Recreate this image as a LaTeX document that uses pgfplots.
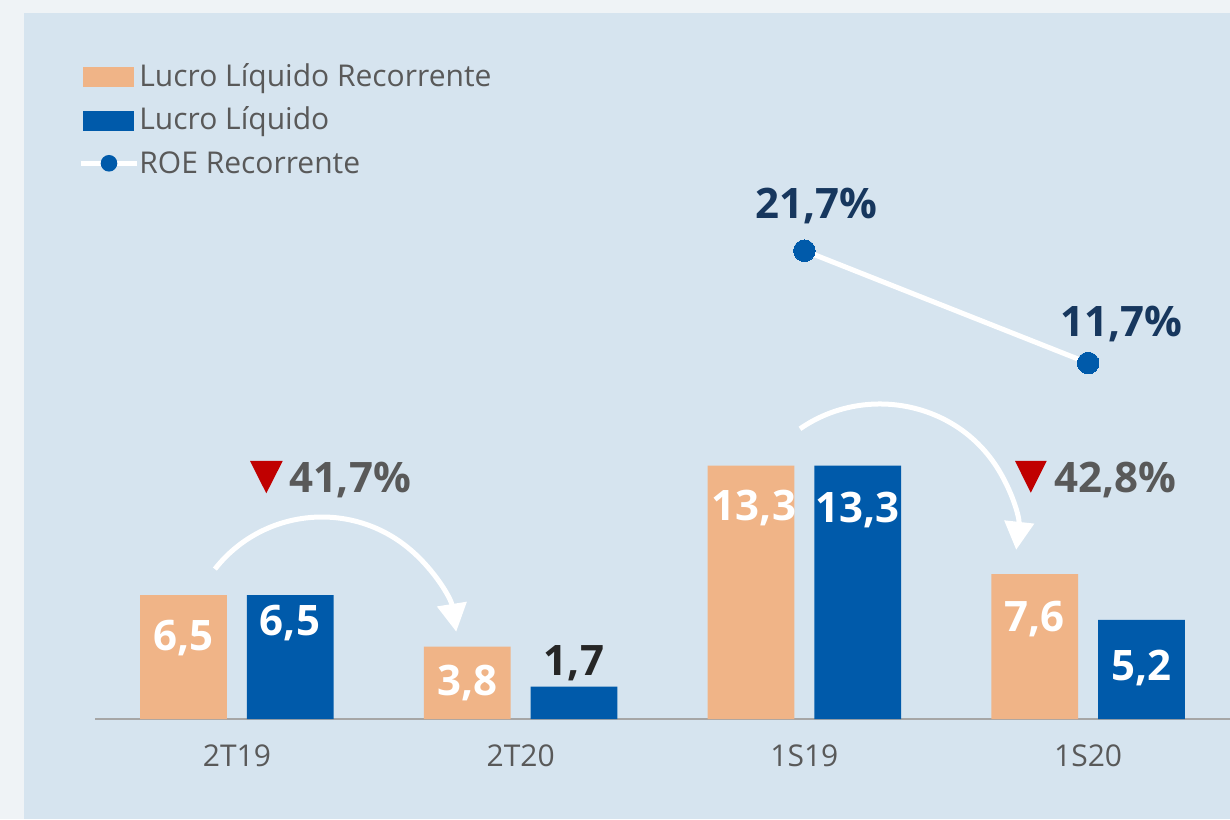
\documentclass[border=0pt]{standalone}
\usepackage{fontspec}
\setmainfont{Open Sans}
\usepackage{pgfplots}
\pgfplotsset{compat=1.18}
\usetikzlibrary{arrows.meta}
\definecolor{outerbg}{HTML}{EFF3F6}
\definecolor{panel}{HTML}{D6E4EF}
\definecolor{orangebar}{HTML}{F0B487}
\definecolor{bluebar}{HTML}{005AAA}
\definecolor{textgray}{HTML}{595959}
\definecolor{navy}{HTML}{17375E}
\definecolor{redtri}{HTML}{C00000}
\definecolor{axisgray}{HTML}{A6A6A6}
\definecolor{darktext}{HTML}{262626}
\newcommand{\lbl}{\fontsize{21pt}{25pt}\selectfont\bfseries}
\begin{document}
\begin{tikzpicture}
\path[use as bounding box, fill=outerbg] (0,0) rectangle (615pt,409.5pt);
\fill[panel] (11.75pt,0) rectangle (615pt,403pt);
\begin{axis}[at={(47.5pt,50pt)}, anchor=south west, scale only axis,
  width=567.5pt, height=259.5pt,
  xmin=-0.5, xmax=3.5, ymin=0, ymax=27.23,
  axis x line*=bottom, axis y line=none,
  xtick={0,1,2,3}, xticklabels={2T19,2T20,1S19,1S20},
  ytick=\empty, major tick length=0pt,
  x axis line style={color=axisgray, line width=0.75pt},
  xticklabel style={anchor=base, yshift=-23.85pt, font=\fontsize{15pt}{18pt}\selectfont, text=textgray},
  clip=false]
\addplot[ybar, bar width=43.35pt, bar shift=-26.65pt, fill=orangebar, draw=none]
  coordinates {(0,6.5) (1,3.8) (2,13.3) (3,7.6)};
\addplot[ybar, bar width=43.35pt, bar shift=26.65pt, fill=bluebar, draw=none]
  coordinates {(0,6.5) (1,1.7) (2,13.3) (3,5.2)};
\end{axis}
\begin{axis}[at={(47.5pt,50pt)}, anchor=south west, scale only axis,
  width=567.5pt, height=259.5pt,
  xmin=-0.5, xmax=3.5, ymin=-20, ymax=26.22, hide axis, clip=false]
\addplot[white, line width=2.5pt, mark=*, mark size=5.4pt, mark options={fill=bluebar, draw=bluebar, line width=0pt}]
  coordinates {(2,21.7) (3,11.7)};
\end{axis}
\begin{scope}[shift={(0,409.5pt)}, x=0.5pt, y=-0.5pt]
  % legend
  \fill[orangebar] (82.7,67.3) rectangle (134,86.7);
  \fill[bluebar] (82.7,111) rectangle (134,130.7);
  \draw[white, line width=2.5pt] (80.5,163.3) -- (137,163.3);
  \fill[bluebar] (109,163.3) circle[radius=8.3];
  \begin{scope}[every node/.style={anchor=base west, inner sep=0pt, text=textgray, font=\fontsize{15pt}{18pt}\selectfont}]
    \node at (139,86.7) {Lucro Líquido Recorrente};
    \node at (139,130) {Lucro Líquido};
    \node at (139,173.3) {ROE Recorrente};
  \end{scope}
  % arrows
  \draw[white, line width=2.5pt, -{Triangle[length=14pt,width=14.5pt]}]
    (214.9,569.1) arc[start angle=218.1, end angle=351, radius=136];
  \draw[white, line width=2.5pt, -{Triangle[length=14pt,width=14.5pt]}]
    (800,428.8) arc[start angle=234.3, end angle=366, x radius=137, y radius=132];
  % red triangles
  \fill[redtri] (250,461) -- (282.7,461) -- (266.3,493.3) -- cycle;
  \fill[redtri] (1015,461) -- (1046.7,461) -- (1030.8,492.7) -- cycle;
  % labels
  \begin{scope}[every node/.style={anchor=base, inner sep=0pt, font=\lbl}]
    \node[text=white] at (183.3,650) {6,5};
    \node[text=white] at (290,635) {6,5};
    \node[text=white] at (467.3,695) {3,8};
    \node[text=darktext] at (574,675) {1,7};
    \node[text=white] at (754,521) {13,3};
    \node[text=white] at (857.5,523) {13,3};
    \node[text=white] at (1034.3,631.7) {7,6};
    \node[text=white] at (1141.5,680) {5,2};
    \node[text=textgray] at (350,493) {41,7\%};
    \node[text=textgray] at (1115,493) {42,8\%};
    \node[text=navy] at (816.7,219) {21,7\%};
    \node[text=navy] at (1121,336.7) {11,7\%};
  \end{scope}
\end{scope}
\end{tikzpicture}
\end{document}
